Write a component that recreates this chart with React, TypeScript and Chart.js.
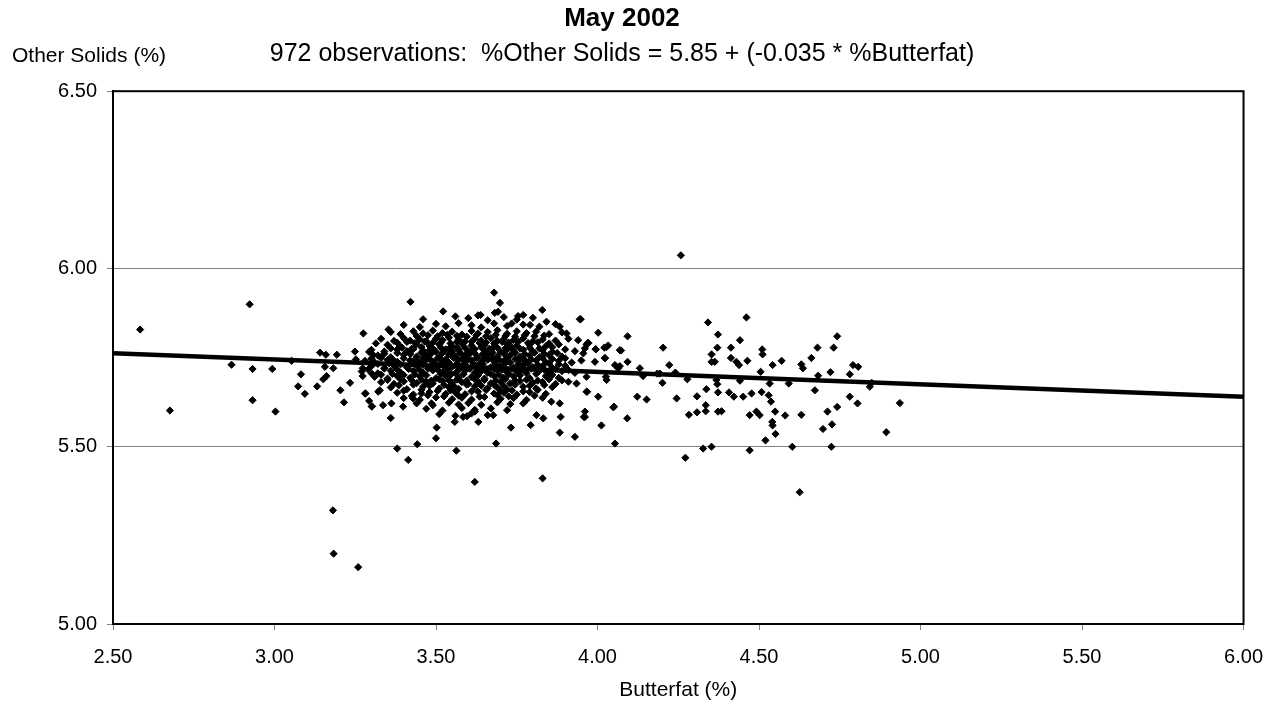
import React, { useEffect, useRef } from 'react';
import { Chart, registerables } from 'chart.js';

Chart.register(...registerables);

const chartTitle = 'May 2002';
const chartSubtitle = '972 observations:  %Other Solids = 5.85 + (-0.035 * %Butterfat)';
const yAxisTitle = 'Other Solids (%)';
const xAxisTitle = 'Butterfat (%)';

const xRange = [2.5, 6.0];
const yRange = [5.0, 6.5];
const tickStep = 0.5;

const regressionIntercept = 5.85;
const regressionSlope = -0.035;

// [butterfat %, other solids %]
const sparseLeft: [number, number][] = [
  [2.584, 5.829], [2.676, 5.601], [2.923, 5.9], [2.867, 5.73], [2.932, 5.718], [2.932, 5.63],
  [2.993, 5.718], [3.003, 5.598], [3.053, 5.741], [3.082, 5.703], [3.073, 5.669], [3.094, 5.648],
  [3.132, 5.669], [3.141, 5.764], [3.159, 5.758], [3.156, 5.724], [3.161, 5.698], [3.151, 5.689],
  [3.182, 5.72], [3.193, 5.758], [3.204, 5.658], [3.215, 5.624], [3.234, 5.679], [3.249, 5.767],
  [3.252, 5.745], [3.275, 5.818], [3.273, 5.72], [3.273, 5.698], [3.282, 5.649], [3.293, 5.628],
  [3.302, 5.613], [3.293, 5.766], [3.306, 5.757], [3.314, 5.79], [3.301, 5.705], [3.321, 5.654],
  [3.181, 5.32], [3.183, 5.198], [3.259, 5.16],
];

const sparseMiddle: [number, number][] = [
  [3.421, 5.907], [3.68, 5.933], [3.698, 5.904], [3.522, 5.88], [3.353, 5.829], [3.829, 5.884],
  [3.945, 5.858], [4.002, 5.82], [3.638, 5.87], [3.682, 5.876], [3.692, 5.879], [3.754, 5.867],
  [3.77, 5.87], [3.38, 5.494], [3.414, 5.462], [3.442, 5.506], [3.563, 5.488], [3.686, 5.508],
  [4.054, 5.508], [3.36, 5.58], [3.502, 5.553], [3.5, 5.523], [3.558, 5.569], [3.584, 5.583],
  [3.596, 5.585], [3.631, 5.569], [3.732, 5.553], [3.793, 5.56], [3.883, 5.539], [3.93, 5.527],
  [4.012, 5.559], [4.051, 5.612], [3.961, 5.583], [3.886, 5.583], [3.832, 5.579], [3.811, 5.588],
  [3.677, 5.588], [3.62, 5.598], [3.28, 5.649], [3.301, 5.612], [3.326, 5.658], [3.336, 5.616],
  [3.362, 5.621], [3.398, 5.612], [3.429, 5.635], [3.455, 5.649], [3.486, 5.621], [3.883, 5.621],
  [3.857, 5.626], [3.935, 5.677], [3.966, 5.654], [4.028, 5.687], [4.023, 5.748], [3.995, 5.773],
  [4.069, 5.771], [3.971, 5.792], [3.94, 5.799], [3.904, 5.818], [3.883, 5.837], [3.842, 5.851],
  [3.791, 5.842], [3.734, 5.846], [3.62, 5.4], [3.83, 5.41],
];

const sparseRight: [number, number][] = [
  [4.258, 6.038], [3.948, 5.858], [4.093, 5.81], [4.203, 5.778], [4.342, 5.849], [4.373, 5.815],
  [4.461, 5.863], [4.413, 5.778], [4.441, 5.799], [4.371, 5.778], [4.353, 5.759], [4.353, 5.738],
  [4.363, 5.738], [4.413, 5.749], [4.43, 5.738], [4.438, 5.729], [4.464, 5.741], [4.51, 5.773],
  [4.511, 5.759], [4.542, 5.729], [4.57, 5.741], [4.505, 5.71], [4.533, 5.677], [4.592, 5.677],
  [4.631, 5.731], [4.636, 5.72], [4.662, 5.749], [4.681, 5.778], [4.683, 5.699], [4.673, 5.658],
  [4.721, 5.709], [4.731, 5.778], [4.742, 5.81], [4.781, 5.703], [4.791, 5.729], [4.807, 5.724],
  [4.781, 5.64], [4.805, 5.621], [4.843, 5.668], [4.849, 5.679], [4.936, 5.622], [4.894, 5.54],
  [4.742, 5.611], [4.712, 5.598], [4.726, 5.562], [4.698, 5.549], [4.724, 5.499], [4.631, 5.589],
  [4.603, 5.499], [4.581, 5.587], [4.55, 5.598], [4.541, 5.569], [4.542, 5.559], [4.551, 5.535],
  [4.52, 5.517], [4.537, 5.626], [4.53, 5.644], [4.508, 5.653], [4.502, 5.588], [4.492, 5.598],
  [4.471, 5.588], [4.477, 5.649], [4.451, 5.64], [4.422, 5.64], [4.407, 5.652], [4.441, 5.685],
  [4.471, 5.489], [4.373, 5.598], [4.384, 5.599], [4.373, 5.652], [4.371, 5.675], [4.368, 5.687],
  [4.337, 5.661], [4.335, 5.616], [4.335, 5.599], [4.308, 5.641], [4.308, 5.596], [4.283, 5.589],
  [4.327, 5.494], [4.353, 5.499], [4.272, 5.468], [4.245, 5.635], [4.278, 5.689], [4.241, 5.708],
  [4.222, 5.729], [4.201, 5.679], [4.193, 5.705], [4.152, 5.632], [4.123, 5.64], [4.131, 5.72],
  [4.141, 5.698], [4.092, 5.579], [4.093, 5.738], [4.073, 5.77], [4.064, 5.72], [4.069, 5.726],
  [4.054, 5.729], [4.049, 5.61], [4.028, 5.78], [4.033, 5.784], [4.021, 5.778], [4.023, 5.749],
  [4.026, 5.696], [4.002, 5.64], [3.994, 5.774], [3.992, 5.738], [3.966, 5.787], [3.971, 5.79],
  [3.961, 5.776], [3.956, 5.762], [3.966, 5.696], [3.968, 5.654], [3.961, 5.598], [3.958, 5.583],
  [4.185, 5.705], [4.626, 5.371],
];

const denseCore: [number, number][] = [
  [3.46, 5.858], [3.56, 5.866], [3.6, 5.861], [3.63, 5.869], [3.66, 5.855], [3.71, 5.864], [3.75, 5.857], [3.8, 5.862],
  [3.4, 5.842], [3.45, 5.836], [3.5, 5.845], [3.53, 5.838], [3.57, 5.847], [3.61, 5.841], [3.64, 5.835], [3.68, 5.846],
  [3.72, 5.839], [3.77, 5.843], [3.82, 5.837], [3.87, 5.844],
  [3.36, 5.822], [3.39, 5.816], [3.43, 5.824], [3.46, 5.818], [3.49, 5.826], [3.52, 5.819], [3.55, 5.823], [3.58, 5.815],
  [3.61, 5.825], [3.63, 5.818], [3.66, 5.822], [3.69, 5.827], [3.72, 5.817], [3.75, 5.824], [3.78, 5.819], [3.81, 5.823],
  [3.85, 5.816], [3.89, 5.821],
  [3.33, 5.803], [3.37, 5.797], [3.4, 5.805], [3.42, 5.798], [3.45, 5.802], [3.47, 5.796], [3.5, 5.804], [3.52, 5.799],
  [3.54, 5.806], [3.57, 5.801], [3.59, 5.795], [3.62, 5.803], [3.64, 5.798], [3.67, 5.805], [3.69, 5.797], [3.71, 5.802],
  [3.74, 5.799], [3.77, 5.804], [3.8, 5.796], [3.83, 5.801], [3.87, 5.798], [3.91, 5.803],
  [3.35, 5.786], [3.39, 5.781], [3.44, 5.788], [3.48, 5.783], [3.51, 5.787], [3.55, 5.782], [3.58, 5.789], [3.61, 5.784],
  [3.65, 5.786], [3.68, 5.781], [3.72, 5.788], [3.75, 5.783], [3.79, 5.786], [3.84, 5.782], [3.88, 5.787],
  [3.3, 5.772], [3.34, 5.767], [3.38, 5.773], [3.41, 5.768], [3.43, 5.774], [3.46, 5.769], [3.48, 5.771], [3.5, 5.766],
  [3.53, 5.773], [3.55, 5.768], [3.57, 5.772], [3.6, 5.767], [3.62, 5.774], [3.65, 5.769], [3.67, 5.771], [3.7, 5.766],
  [3.72, 5.773], [3.74, 5.768], [3.77, 5.772], [3.8, 5.767], [3.83, 5.771], [3.86, 5.766], [3.9, 5.773], [3.93, 5.768],
  [3.32, 5.756], [3.36, 5.751], [3.4, 5.758], [3.44, 5.753], [3.47, 5.757], [3.51, 5.752], [3.54, 5.759], [3.56, 5.754],
  [3.59, 5.756], [3.63, 5.751], [3.66, 5.758], [3.69, 5.753], [3.73, 5.757], [3.76, 5.752], [3.79, 5.756], [3.82, 5.751],
  [3.85, 5.757], [3.89, 5.753],
  [3.28, 5.741], [3.31, 5.736], [3.35, 5.743], [3.38, 5.738], [3.42, 5.742], [3.45, 5.737], [3.47, 5.744], [3.49, 5.739],
  [3.52, 5.741], [3.54, 5.736], [3.57, 5.743], [3.59, 5.738], [3.61, 5.742], [3.64, 5.737], [3.66, 5.744], [3.68, 5.739],
  [3.71, 5.741], [3.73, 5.736], [3.76, 5.743], [3.78, 5.738], [3.81, 5.742], [3.84, 5.737], [3.88, 5.741], [3.92, 5.736],
  [3.95, 5.742],
  [3.3, 5.726], [3.34, 5.721], [3.37, 5.728], [3.41, 5.723], [3.44, 5.727], [3.48, 5.722], [3.51, 5.729], [3.55, 5.724],
  [3.58, 5.726], [3.6, 5.721], [3.63, 5.728], [3.67, 5.723], [3.7, 5.727], [3.74, 5.722], [3.77, 5.728], [3.8, 5.723],
  [3.83, 5.726], [3.86, 5.721], [3.9, 5.727],
  [3.27, 5.711], [3.32, 5.706], [3.36, 5.713], [3.39, 5.708], [3.43, 5.712], [3.46, 5.707], [3.49, 5.714], [3.52, 5.709],
  [3.54, 5.711], [3.56, 5.706], [3.59, 5.713], [3.62, 5.708], [3.64, 5.712], [3.66, 5.707], [3.69, 5.714], [3.72, 5.709],
  [3.75, 5.711], [3.78, 5.706], [3.82, 5.713], [3.85, 5.708], [3.89, 5.712], [3.93, 5.707],
  [3.31, 5.696], [3.35, 5.691], [3.38, 5.698], [3.42, 5.693], [3.45, 5.697], [3.5, 5.692], [3.53, 5.699], [3.57, 5.694],
  [3.61, 5.696], [3.65, 5.691], [3.68, 5.698], [3.71, 5.693], [3.74, 5.697], [3.79, 5.692], [3.84, 5.698], [3.88, 5.693],
  [3.33, 5.681], [3.37, 5.676], [3.4, 5.683], [3.44, 5.678], [3.47, 5.682], [3.49, 5.677], [3.52, 5.684], [3.55, 5.679],
  [3.58, 5.681], [3.6, 5.676], [3.63, 5.683], [3.67, 5.678], [3.7, 5.682], [3.73, 5.677], [3.76, 5.684], [3.8, 5.679],
  [3.83, 5.681], [3.87, 5.676], [3.91, 5.682],
  [3.36, 5.666], [3.41, 5.661], [3.46, 5.668], [3.51, 5.663], [3.54, 5.667], [3.57, 5.662], [3.62, 5.669], [3.66, 5.664],
  [3.69, 5.666], [3.72, 5.661], [3.77, 5.668], [3.81, 5.663], [3.86, 5.667],
  [3.38, 5.651], [3.43, 5.646], [3.48, 5.653], [3.53, 5.648], [3.56, 5.652], [3.59, 5.647], [3.63, 5.654], [3.68, 5.649],
  [3.71, 5.651], [3.75, 5.646], [3.79, 5.653], [3.84, 5.648],
  [3.4, 5.636], [3.45, 5.631], [3.5, 5.638], [3.55, 5.633], [3.58, 5.637], [3.61, 5.632], [3.65, 5.639], [3.7, 5.634],
  [3.74, 5.636], [3.78, 5.631], [3.83, 5.637],
  [3.44, 5.621], [3.49, 5.616], [3.54, 5.623], [3.57, 5.618], [3.6, 5.622], [3.64, 5.617], [3.69, 5.624], [3.73, 5.619],
  [3.77, 5.621],
  [3.47, 5.606], [3.52, 5.601], [3.58, 5.608], [3.62, 5.603], [3.67, 5.607], [3.72, 5.602],
  [3.51, 5.591], [3.56, 5.586], [3.61, 5.593], [3.66, 5.588],
];

const denseFill: [number, number][] = [
  [3.44, 5.811], [3.475, 5.813], [3.505, 5.81], [3.535, 5.814], [3.565, 5.811], [3.595, 5.809], [3.625, 5.813],
  [3.655, 5.81], [3.685, 5.814], [3.715, 5.811], [3.745, 5.809], [3.775, 5.813], [3.805, 5.81], [3.835, 5.812],
  [3.38, 5.792], [3.41, 5.794], [3.435, 5.791], [3.465, 5.795], [3.49, 5.792], [3.515, 5.793], [3.545, 5.79],
  [3.565, 5.794], [3.585, 5.792], [3.61, 5.795], [3.635, 5.791], [3.655, 5.793], [3.68, 5.79], [3.705, 5.794],
  [3.725, 5.792], [3.755, 5.795], [3.785, 5.791], [3.815, 5.793], [3.85, 5.79],
  [3.36, 5.776], [3.395, 5.778], [3.425, 5.775], [3.455, 5.779], [3.49, 5.776], [3.515, 5.778], [3.54, 5.775],
  [3.565, 5.779], [3.59, 5.777], [3.615, 5.776], [3.64, 5.779], [3.665, 5.775], [3.69, 5.778], [3.715, 5.776],
  [3.735, 5.779], [3.76, 5.775], [3.79, 5.778], [3.82, 5.776], [3.86, 5.779],
  [3.34, 5.761], [3.38, 5.763], [3.42, 5.76], [3.455, 5.764], [3.485, 5.761], [3.52, 5.763], [3.545, 5.76],
  [3.575, 5.764], [3.605, 5.761], [3.62, 5.762], [3.645, 5.76], [3.675, 5.764], [3.71, 5.761], [3.745, 5.763],
  [3.775, 5.76], [3.805, 5.764], [3.835, 5.761], [3.875, 5.763],
  [3.3, 5.747], [3.33, 5.749], [3.365, 5.746], [3.4, 5.748], [3.435, 5.745], [3.46, 5.749], [3.48, 5.746],
  [3.505, 5.748], [3.53, 5.745], [3.555, 5.749], [3.58, 5.747], [3.6, 5.745], [3.625, 5.749], [3.65, 5.746],
  [3.675, 5.748], [3.695, 5.745], [3.72, 5.749], [3.745, 5.746], [3.77, 5.748], [3.795, 5.745], [3.83, 5.749],
  [3.86, 5.746], [3.9, 5.748],
  [3.32, 5.732], [3.355, 5.734], [3.39, 5.731], [3.425, 5.733], [3.46, 5.73], [3.495, 5.734], [3.53, 5.731],
  [3.565, 5.733], [3.59, 5.73], [3.615, 5.734], [3.645, 5.732], [3.685, 5.73], [3.715, 5.734], [3.755, 5.731],
  [3.785, 5.733], [3.815, 5.73], [3.85, 5.734], [3.88, 5.731],
  [3.29, 5.717], [3.34, 5.719], [3.38, 5.716], [3.415, 5.718], [3.45, 5.715], [3.475, 5.719], [3.505, 5.716],
  [3.53, 5.718], [3.57, 5.715], [3.605, 5.719], [3.63, 5.717], [3.655, 5.715], [3.68, 5.719], [3.705, 5.716],
  [3.735, 5.718], [3.765, 5.715], [3.795, 5.719], [3.835, 5.716], [3.87, 5.718], [3.91, 5.715],
  [3.33, 5.702], [3.365, 5.704], [3.4, 5.701], [3.435, 5.703], [3.47, 5.7], [3.515, 5.704], [3.545, 5.701],
  [3.585, 5.703], [3.63, 5.7], [3.67, 5.704], [3.695, 5.701], [3.725, 5.703], [3.76, 5.7], [3.81, 5.704], [3.86, 5.701],
  [3.35, 5.687], [3.39, 5.689], [3.425, 5.686], [3.455, 5.688], [3.485, 5.685], [3.51, 5.689], [3.54, 5.686],
  [3.565, 5.688], [3.595, 5.685], [3.62, 5.689], [3.65, 5.687], [3.685, 5.685], [3.715, 5.689], [3.745, 5.686],
  [3.78, 5.688], [3.815, 5.685], [3.85, 5.689], [3.89, 5.686],
  [3.385, 5.672], [3.43, 5.674], [3.48, 5.671], [3.525, 5.673], [3.555, 5.67], [3.595, 5.674], [3.64, 5.671],
  [3.68, 5.673], [3.71, 5.67], [3.745, 5.674], [3.79, 5.671], [3.835, 5.673],
  [3.4, 5.657], [3.455, 5.659], [3.505, 5.656], [3.545, 5.658], [3.61, 5.655], [3.655, 5.659], [3.7, 5.656],
  [3.735, 5.658], [3.77, 5.655], [3.815, 5.659],
  [3.425, 5.642], [3.475, 5.644], [3.525, 5.641], [3.57, 5.643], [3.635, 5.64], [3.69, 5.644], [3.725, 5.641],
  [3.805, 5.643],
];

const observations: [number, number][] = [...sparseLeft, ...denseCore, ...denseFill, ...sparseMiddle, ...sparseRight];

const FONT = "'Liberation Sans', Arial, Helvetica, sans-serif";

const frameAndLabelPlugin = {
  id: 'frameAndLabel',
  afterDraw(chart: any) {
    const { ctx, chartArea } = chart;
    const { left, top, right, bottom } = chartArea;
    ctx.save();
    ctx.strokeStyle = '#000000';
    ctx.lineWidth = 2;
    ctx.strokeRect(left, top, right - left, bottom - top);
    ctx.fillStyle = '#000000';
    ctx.font = `21px ${FONT}`;
    ctx.textAlign = 'left';
    ctx.textBaseline = 'alphabetic';
    ctx.fillText(yAxisTitle, 12, 62);
    ctx.restore();
  },
};

export default function App() {
  const canvasRef = useRef<HTMLCanvasElement | null>(null);

  useEffect(() => {
    const canvas = canvasRef.current;
    if (!canvas) return;
    const scatterData = observations.map(([x, y]) => ({ x, y }));
    const lineData = xRange.map((x) => ({ x, y: regressionIntercept + regressionSlope * x }));

    const chart = new Chart(canvas, {
      type: 'scatter',
      data: {
        datasets: [
          {
            label: 'Observations',
            data: scatterData,
            pointStyle: 'rectRot',
            pointRadius: 3.6,
            pointBackgroundColor: '#000000',
            pointBorderColor: '#000000',
            pointBorderWidth: 1,
            showLine: false,
          },
          {
            label: 'Regression',
            type: 'line',
            data: lineData,
            borderColor: '#000000',
            borderWidth: 4.5,
            pointRadius: 0,
            fill: false,
            tension: 0,
          } as any,
        ],
      },
      options: {
        animation: false,
        responsive: true,
        maintainAspectRatio: false,
        layout: { padding: { left: 0, right: 34, top: 0, bottom: 0 } },
        plugins: {
          legend: { display: false },
          tooltip: { enabled: false },
          title: {
            display: true,
            text: chartTitle,
            color: '#000000',
            font: { family: FONT, size: 26, weight: 'bold', lineHeight: 1.2 },
            padding: { top: 3, bottom: 0 },
          },
          subtitle: {
            display: true,
            text: chartSubtitle,
            color: '#000000',
            font: { family: FONT, size: 25, lineHeight: 1.2 },
            padding: { top: 5, bottom: 22 },
          },
        },
        scales: {
          x: {
            type: 'linear',
            min: xRange[0],
            max: xRange[1],
            ticks: {
              stepSize: tickStep,
              color: '#000000',
              font: { family: FONT, size: 20 },
              padding: 15,
              maxRotation: 0,
              callback: (v: any) => Number(v).toFixed(2),
            },
            grid: {
              drawOnChartArea: false,
              drawTicks: true,
              tickLength: 6,
              tickColor: '#808080',
            },
            border: { display: true, color: '#000000', width: 2 },
            title: {
              display: true,
              text: xAxisTitle,
              color: '#000000',
              font: { family: FONT, size: 21 },
              padding: { top: 0, bottom: 6 },
            },
            afterFit: (scale: any) => {
              scale.height = 85;
            },
          },
          y: {
            type: 'linear',
            min: yRange[0],
            max: yRange[1],
            ticks: {
              stepSize: tickStep,
              color: '#000000',
              font: { family: FONT, size: 20 },
              padding: 10,
              callback: (v: any) => Number(v).toFixed(2),
            },
            grid: {
              color: '#808080',
              lineWidth: 1,
              drawTicks: true,
              tickLength: 6,
              tickColor: '#808080',
            },
            border: { display: true, color: '#000000', width: 2 },
            afterFit: (scale: any) => {
              scale.width = 113;
            },
          },
        },
      },
      plugins: [frameAndLabelPlugin],
    });

    return () => chart.destroy();
  }, []);

  return (
    <div style={{ position: 'absolute', left: 0, top: 0, width: 1278, height: 709, background: '#ffffff' }}>
      <canvas ref={canvasRef} style={{ display: 'block' }} />
    </div>
  );
}
